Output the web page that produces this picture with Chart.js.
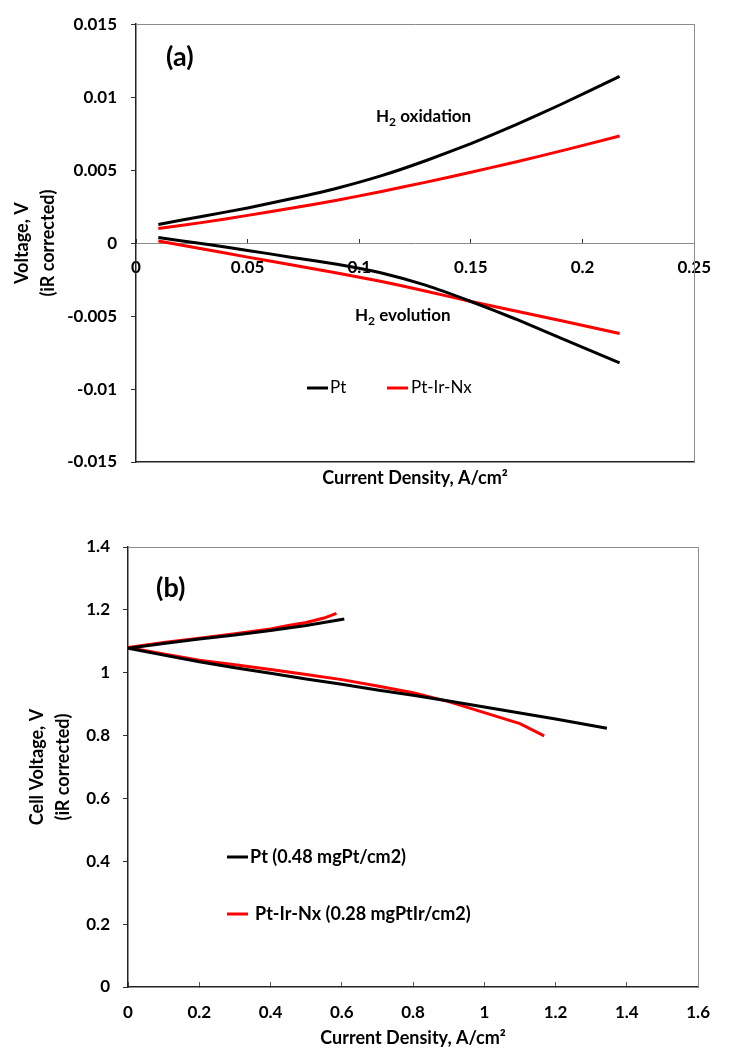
<!DOCTYPE html>
<html>
<head>
<meta charset="utf-8">
<script src="https://cdn.jsdelivr.net/npm/chart.js@4.4.1/dist/chart.umd.min.js"></script>
<style>
body { margin: 0; background: #fff; }
canvas { display: block; }
</style>
</head>
<body>
<canvas id="chartA" width="730" height="500"></canvas>
<canvas id="chartB" width="730" height="552"></canvas>
<script>
// panel (a) - half cell, current density A/cm2 vs voltage V
const aCurrent = [0.01, 0.03, 0.05, 0.07, 0.09, 0.11, 0.13, 0.15, 0.17, 0.19, 0.2166];
const aPtOx = [0.00128, 0.00184, 0.00241, 0.00305, 0.00376, 0.00462, 0.00566, 0.00682, 0.0081, 0.00948, 0.01142];
const aPtIrOx = [0.00100, 0.00142, 0.00190, 0.00240, 0.00294, 0.00354, 0.00418, 0.00486, 0.00556, 0.00630, 0.00734];
const aPtEvo = [0.00038, -0.00005, -0.0005, -0.00098, -0.00145, -0.00205, -0.0029, -0.0040, -0.0052, -0.0065, -0.0082];
const aPtIrEvo = [0.00015, -0.0004, -0.00096, -0.0015, -0.00205, -0.00263, -0.0033, -0.0040, -0.00465, -0.0053, -0.0062];
const aXTicks = [0, 0.05, 0.1, 0.15, 0.2, 0.25];
const aXLabels = ['0', '0.05', '0.1', '0.15', '0.2', '0.25'];
const aYTicks = [-0.015, -0.01, -0.005, 0, 0.005, 0.01, 0.015];
const aYLabels = ['-0.015', '-0.01', '-0.005', '0', '0.005', '0.01', '0.015'];
const aNames = ['Pt', 'Pt-Ir-Nx'];

// panel (b) - full cell, one path per catalyst (upper branch back to 0, then lower branch)
const bPtCurrent = [0.607, 0.5, 0.4, 0.3, 0.2, 0.1, 0, 0.1, 0.2, 0.3, 0.4, 0.5, 0.6, 0.7, 0.8, 0.9, 1.0, 1.1, 1.2, 1.344];
const bPtVoltage = [1.171, 1.150, 1.134, 1.120, 1.107, 1.093, 1.078, 1.056, 1.035, 1.016, 0.998, 0.980, 0.963, 0.945, 0.928, 0.910, 0.891, 0.872, 0.853, 0.823];
const bPtIrCurrent = [0.585, 0.55, 0.5, 0.45, 0.4, 0.3, 0.2, 0.1, 0, 0.1, 0.2, 0.3, 0.4, 0.5, 0.6, 0.7, 0.8, 0.9, 1.0, 1.1, 1.168];
const bPtIrVoltage = [1.189, 1.174, 1.160, 1.150, 1.139, 1.124, 1.110, 1.096, 1.080, 1.060, 1.040, 1.025, 1.010, 0.994, 0.978, 0.958, 0.936, 0.908, 0.873, 0.838, 0.799];
const bXTicks = [0, 0.2, 0.4, 0.6, 0.8, 1, 1.2, 1.4, 1.6];
const bXLabels = ['0', '0.2', '0.4', '0.6', '0.8', '1', '1.2', '1.4', '1.6'];
const bYTicks = [0, 0.2, 0.4, 0.6, 0.8, 1, 1.2, 1.4];
const bYLabels = ['0', '0.2', '0.4', '0.6', '0.8', '1', '1.2', '1.4'];
const bNames = ['Pt (0.48 mgPt/cm2)', 'Pt-Ir-Nx (0.28 mgPtIr/cm2)'];

const BLACK = '#000000';
const RED = '#ff0000';

Chart.defaults.font.family = 'Lato';
Chart.defaults.color = '#000';

function pts(xs, ys) {
  return xs.map((x, i) => ({ x: x, y: ys[i] }));
}

function line(label, data, color, tension) {
  return {
    label: label,
    data: data,
    borderColor: color,
    backgroundColor: color,
    borderWidth: 3,
    pointRadius: 0,
    showLine: true,
    tension: tension,
    xAxisID: 'x',
    yAxisID: 'y'
  };
}

// gray top/right frame, text notes and the in-plot legend
const notes = {
  id: 'notes',
  afterDraw(chart, args, opts) {
    const ctx = chart.ctx;
    const a = chart.chartArea;
    ctx.save();
    ctx.strokeStyle = '#8c8c8c';
    ctx.lineWidth = 1;
    ctx.beginPath();
    ctx.moveTo(a.left + 1, Math.round(a.top) + 0.5);
    ctx.lineTo(Math.round(a.right) + 0.5, Math.round(a.top) + 0.5);
    ctx.lineTo(Math.round(a.right) + 0.5, a.bottom);
    ctx.stroke();

    ctx.textBaseline = 'middle';
    ctx.fillStyle = '#000';
    for (const t of opts.texts || []) {
      ctx.font = t.font;
      let x = t.x;
      ctx.fillText(t.text, x, t.y);
      if (t.sub) {
        x += ctx.measureText(t.text).width;
        ctx.font = t.subFont;
        ctx.fillText(t.sub, x, t.y + 5);
        x += ctx.measureText(t.sub).width;
        ctx.font = t.font;
        ctx.fillText(t.rest, x, t.y);
      }
    }
    for (const k of opts.keys || []) {
      ctx.strokeStyle = k.color;
      ctx.lineWidth = 3;
      ctx.beginPath();
      ctx.moveTo(k.x, k.y);
      ctx.lineTo(k.x + 21, k.y);
      ctx.stroke();
      ctx.font = k.font;
      ctx.fillText(k.label, k.x + k.gap, k.y);
    }
    ctx.restore();
  }
};

const tickFont = { size: 17, weight: 'bold' };
const titleFont = { size: 18, weight: 'bold', lineHeight: 1.4 };
const xTitleFont = { size: 18, weight: 'bold', lineHeight: 1.2 };

new Chart(document.getElementById('chartA').getContext('2d'), {
  type: 'scatter',
  data: {
    datasets: [
      line(aNames[0], pts(aCurrent, aPtOx), BLACK, 0.15),
      line(aNames[1], pts(aCurrent, aPtIrOx), RED, 0.15),
      line(aNames[0], pts(aCurrent, aPtEvo), BLACK, 0.15),
      line(aNames[1], pts(aCurrent, aPtIrEvo), RED, 0.15)
    ]
  },
  options: {
    responsive: false,
    animation: false,
    layout: { padding: { top: 19, right: 26, bottom: 0, left: 0 } },
    plugins: {
      legend: { display: false },
      tooltip: { enabled: false },
      notes: {
        texts: [
          { text: '(a)', x: 166, y: 57, font: 'bold 27px Lato' },
          { text: 'H', sub: '2', rest: ' oxidation', x: 376, y: 117, font: 'bold 17px Lato', subFont: 'bold 12px Lato' },
          { text: 'H', sub: '2', rest: ' evolution', x: 355, y: 316, font: 'bold 17px Lato', subFont: 'bold 12px Lato' }
        ],
        keys: [
          { label: aNames[0], color: BLACK, x: 307, y: 388, gap: 23, font: '17px Lato' },
          { label: aNames[1], color: RED, x: 387, y: 388, gap: 24, font: '17px Lato' }
        ]
      }
    },
    scales: {
      x: {
        type: 'linear', min: 0, max: 0.25, position: { y: 0 },
        afterBuildTicks: s => { s.ticks = aXTicks.map(v => ({ value: v })); },
        border: { color: '#8c8c8c', width: 1 },
        grid: { drawOnChartArea: false, tickLength: -5, tickColor: '#333' },
        ticks: { font: tickFont, padding: 19, maxRotation: 0, autoSkip: false, callback: (v, i) => aXLabels[i] }
      },
      xb: {
        type: 'linear', min: 0, max: 0.25, position: 'bottom',
        afterFit: s => { s.height = 38; },
        border: { color: '#222', width: 1.5 },
        grid: { display: false },
        ticks: { display: false },
        title: { display: true, text: 'Current Density, A/cm²', font: xTitleFont, padding: { top: 0, bottom: 11 } }
      },
      y: {
        min: -0.015, max: 0.015,
        afterBuildTicks: s => { s.ticks = aYTicks.map(v => ({ value: v })); },
        afterFit: s => { s.width = 136; },
        border: { color: '#222', width: 1.5 },
        grid: { drawOnChartArea: false, tickLength: 5, tickColor: '#333' },
        ticks: { font: tickFont, padding: 14, callback: (v, i) => aYLabels[i] },
        title: { display: true, text: ['Voltage, V', '(iR corrected)'], font: titleFont, padding: { top: 10, bottom: 0 } }
      }
    }
  },
  plugins: [notes]
});

new Chart(document.getElementById('chartB').getContext('2d'), {
  type: 'scatter',
  data: {
    datasets: [
      line(bNames[0], pts(bPtCurrent, bPtVoltage), BLACK, 0),
      line(bNames[1], pts(bPtIrCurrent, bPtIrVoltage), RED, 0)
    ]
  },
  options: {
    responsive: false,
    animation: false,
    layout: { padding: { top: 47, right: 15, bottom: 0, left: 0 } },
    plugins: {
      legend: { display: false },
      tooltip: { enabled: false },
      notes: {
        texts: [
          { text: '(b)', x: 156, y: 88, font: 'bold 27px Lato' }
        ],
        keys: [
          { label: bNames[0], color: BLACK, x: 227, y: 357, gap: 23, font: 'bold 18px Lato' },
          { label: bNames[1], color: RED, x: 227, y: 414, gap: 28, font: 'bold 18px Lato' }
        ]
      }
    },
    scales: {
      x: {
        type: 'linear', min: 0, max: 1.6, position: 'bottom',
        afterBuildTicks: s => { s.ticks = bXTicks.map(v => ({ value: v })); },
        afterFit: s => { s.height = 65; },
        border: { color: '#222', width: 1.5 },
        grid: { drawOnChartArea: false, tickLength: -5, tickColor: '#555' },
        ticks: { font: tickFont, padding: 20, maxRotation: 0, autoSkip: false, callback: (v, i) => bXLabels[i] },
        title: { display: true, text: 'Current Density, A/cm²', font: xTitleFont, padding: { top: 0, bottom: 3 } }
      },
      y: {
        min: 0, max: 1.4,
        afterBuildTicks: s => { s.ticks = bYTicks.map(v => ({ value: v })); },
        afterFit: s => { s.width = 128; },
        border: { color: '#222', width: 1.5 },
        grid: { drawOnChartArea: false, tickLength: 5, tickColor: '#333' },
        ticks: { font: tickFont, padding: 13, callback: (v, i) => bYLabels[i] },
        title: { display: true, text: ['Cell Voltage, V', '(iR corrected)'], font: titleFont, padding: { top: 25, bottom: 0 } }
      }
    }
  },
  plugins: [notes]
});
</script>
</body>
</html>
